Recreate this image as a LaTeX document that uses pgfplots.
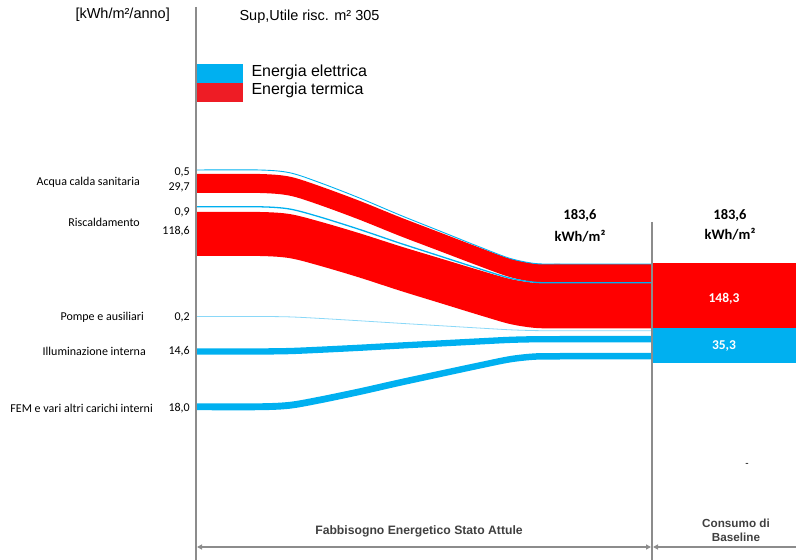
\documentclass[border=0pt]{standalone}
\usepackage{pgfplots}
\pgfplotsset{compat=1.18}
\usepgfplotslibrary{fillbetween}
\usetikzlibrary{arrows.meta}
\usepackage{fontspec}
\setmainfont{Carlito}
\newfontfamily\arial{Liberation Sans}
\definecolor{tred}{HTML}{FF0000}
\definecolor{lred}{HTML}{EE1C25}
\definecolor{eblu}{HTML}{00B0F0}
\definecolor{lblu}{HTML}{8AD8F8}
\definecolor{lgray}{HTML}{8C8C8C}
\definecolor{dgray}{HTML}{404040}
\pgfplotsset{flow/.style={smooth,tension=0.5}}
\begin{document}
\begin{tikzpicture}
\begin{axis}[width=796bp,height=560bp,scale only axis,at={(0,0)},anchor=south west,
  xmin=0,xmax=796,ymin=0,ymax=560,y dir=reverse,hide axis,clip=false]
% ---- red bands (thermal)
\addplot[name path=acsT,draw=none,flow] coordinates {(197,174)(260,174)(290,176.7)(320,186.2)(360,201)(400,217.2)(440,232.5)(480,247.8)(510,258.6)(535,263.6)(560,264)(652,264)};
\addplot[name path=acsB,draw=none,flow] coordinates {(197,193)(260,193)(290,195.7)(320,205.1)(360,219.9)(400,236)(440,251.2)(480,266.4)(510,277.1)(535,282.1)(560,282.5)(652,282.5)};
\addplot[tred,draw=none] fill between[of=acsT and acsB];
\addplot[name path=risT,draw=none,flow] coordinates {(197,212)(260,212)(290,214.1)(320,221.6)(360,233.4)(400,246.2)(440,258.3)(480,270.4)(510,278.9)(535,282.8)(560,283.2)(652,283.2)};
\addplot[name path=risB,draw=none,flow] coordinates {(197,256)(260,256)(290,258.2)(320,265.8)(360,277.7)(400,290.7)(440,303)(480,315.3)(510,324)(535,327.9)(560,328.3)(652,328.3)};
\addplot[tred,draw=none] fill between[of=risT and risB];
% ---- thin electric lines
\addplot[eblu,line width=0.9pt,flow] coordinates {(197,170)(260,170)(290,172.8)(320,182.7)(360,198.2)(400,215.1)(440,231.1)(480,247.1)(510,258.4)(535,263.5)(560,264)(652,264)};
\addplot[eblu,line width=1.3pt,flow] coordinates {(197,206.8)(260,206.8)(290,209.1)(320,217)(360,229.6)(400,243.2)(440,256.1)(480,269)(510,278.1)(535,282.3)(560,282.7)(652,282.7)};
\addplot[lblu,line width=0.8pt,flow] coordinates {(197,316.5)(260,316.5)(290,316.9)(320,318.4)(360,320.8)(400,323.3)(440,325.7)(480,328.1)(510,329.8)(535,330.6)(560,330.7)(652,330.7)};
% ---- electric bands
\addplot[name path=illT,draw=none,flow] coordinates {(197,348.3)(260,348.3)(290,347.9)(320,346.6)(360,344.6)(400,342.4)(440,340.3)(480,338.2)(510,336.7)(535,336.1)(560,336)(652,336)};
\addplot[name path=illB,draw=none,flow] coordinates {(197,354.6)(260,354.6)(290,354.2)(320,352.9)(360,350.9)(400,348.7)(440,346.6)(480,344.5)(510,343)(535,342.4)(560,342.3)(652,342.3)};
\addplot[eblu,draw=none] fill between[of=illT and illB];
\addplot[name path=femT,draw=none,flow] coordinates {(197,403.3)(260,403.3)(290,401.8)(320,396.5)(360,388.2)(400,379.2)(440,370.6)(480,362.1)(510,356)(535,353.3)(560,353)(652,353)};
\addplot[name path=femB,draw=none,flow] coordinates {(197,410.2)(260,410.2)(290,408.7)(320,403.4)(360,395)(400,385.9)(440,377.2)(480,368.6)(510,362.5)(535,359.8)(560,359.5)(652,359.5)};
\addplot[eblu,draw=none] fill between[of=femT and femB];
% ---- baseline blocks
\addplot[fill=tred,draw=none] coordinates {(652,263.3)(796,263.3)(796,328.3)(652,328.3)} --cycle;
\addplot[fill=eblu,draw=none] coordinates {(652,328.3)(796,328.3)(796,362.7)(652,362.7)} --cycle;
% ---- legend patches
\addplot[fill=eblu,draw=none] coordinates {(194.5,64)(243,64)(243,83)(194.5,83)} --cycle;
\addplot[fill=lred,draw=none] coordinates {(194.5,83)(243,83)(243,102)(194.5,102)} --cycle;
% ---- frame lines
\draw[lgray,line width=1.3pt] (axis cs:196,7) -- (axis cs:196,560);
\draw[lgray,line width=1.3pt] (axis cs:652,222) -- (axis cs:652,560);
\draw[lgray,line width=1.2pt,{Triangle[length=5bp,width=5bp]}-{Triangle[length=5bp,width=5bp]}] (axis cs:197,547) -- (axis cs:651,547);
\draw[lgray,line width=1.2pt,{Triangle[length=5bp,width=5bp]}-] (axis cs:653,547) -- (axis cs:796,547);
% ---- texts
\node[anchor=west,font=\arial\fontsize{14.5bp}{16bp}\selectfont] at (axis cs:72,15) {[kWh/m²/anno]};
\node[anchor=west,font=\arial\fontsize{14.5bp}{16bp}\selectfont] at (axis cs:236,17) {Sup,Utile risc. m² 305};
\node[anchor=west,font=\arial\fontsize{16bp}{18bp}\selectfont] at (axis cs:248,72) {Energia elettrica};
\node[anchor=west,font=\arial\fontsize{16bp}{18bp}\selectfont] at (axis cs:248,90) {Energia termica};
\begin{scope}[every node/.style={font=\fontsize{12bp}{14bp}\selectfont,inner sep=0pt}]
\node[anchor=east] at (axis cs:140,182) {Acqua calda sanitaria};
\node[anchor=east] at (axis cs:140,222) {Riscaldamento};
\node[anchor=east] at (axis cs:144,317) {Pompe e ausiliari};
\node[anchor=east] at (axis cs:146,351) {Illuminazione interna};
\node[anchor=east] at (axis cs:153,408) {FEM e vari altri carichi interni};
\node[anchor=east] at (axis cs:190,172) {0,5};
\node[anchor=east] at (axis cs:190,187) {29,7};
\node[anchor=east] at (axis cs:190,212) {0,9};
\node[anchor=east] at (axis cs:190,231) {118,6};
\node[anchor=east] at (axis cs:190,317) {0,2};
\node[anchor=east] at (axis cs:190,351) {14,6};
\node[anchor=east] at (axis cs:190,408) {18,0};
\end{scope}
\begin{scope}[every node/.style={font=\bfseries\fontsize{14.5bp}{16bp}\selectfont,inner sep=0pt}]
\node at (axis cs:580,215) {183,6};
\node at (axis cs:580,236) {kWh/m²};
\node at (axis cs:730,215) {183,6};
\node at (axis cs:730,234) {kWh/m²};
\end{scope}
\begin{scope}[every node/.style={font=\bfseries\fontsize{13.5bp}{15bp}\selectfont,inner sep=0pt}]
\node[white] at (axis cs:724,299) {148,3};
\node[white] at (axis cs:724,346) {35,3};
\end{scope}
\node[font=\arial\bfseries\fontsize{12.2bp}{14bp}\selectfont,text=dgray] at (axis cs:419,531) {Fabbisogno Energetico Stato Attule};
\node[font=\arial\bfseries\fontsize{11.7bp}{13bp}\selectfont,text=dgray,align=center] at (axis cs:736,530.5) {Consumo di\\[1.5bp]Baseline};
\node[font=\arial\fontsize{10bp}{12bp}\selectfont] at (axis cs:747,465) {-};
\end{axis}
\pgfresetboundingbox
\path (0,0) rectangle (796bp,560bp);
\end{tikzpicture}
\end{document}
